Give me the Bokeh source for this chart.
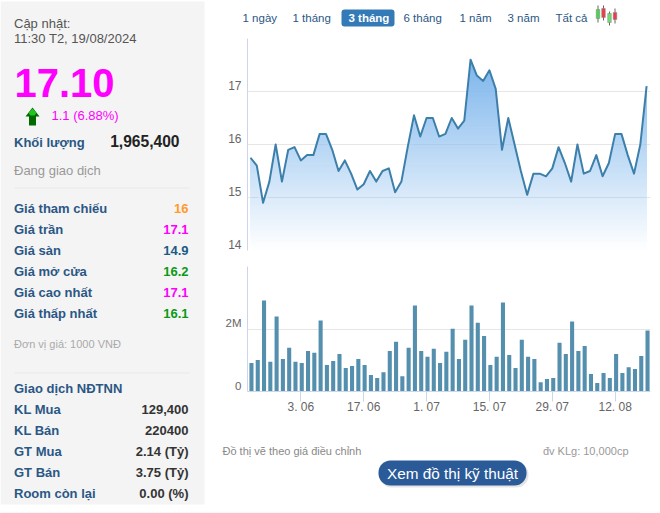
import numpy as np
from bokeh.embed import file_html
from bokeh.resources import INLINE
from bokeh.plotting import figure
from bokeh.layouts import row, column
from bokeh.models import Range1d, LinearAxis, FixedTicker, Grid, BoxAnnotation
from bokeh.core.properties import value

FONT = "Liberation Sans"

# ---------- data ----------
price = [15.75, 15.6, 14.9, 15.3, 16.0, 15.3, 15.9, 15.95, 15.7, 15.8, 15.8, 16.2, 16.2, 15.9, 15.5, 15.7,
         15.45, 15.15, 15.25, 15.5, 15.3, 15.5, 15.55, 15.1, 15.3, 15.95, 16.55, 16.15, 16.5, 16.5, 16.15, 16.2,
         16.5, 16.3, 16.45, 17.6, 17.3, 17.2, 17.4, 17.05, 15.9, 16.5, 16.0, 15.5, 15.05, 15.45, 15.45, 15.4,
         15.55, 15.95, 15.65, 15.3, 16.0, 15.45, 15.5, 15.8, 15.4, 15.65, 16.2, 16.2, 15.8, 15.45, 16.0, 17.1]
volume_m = [0.91, 1.01, 2.91, 0.95, 2.40, 1.04, 1.40, 0.95, 0.91, 1.30, 1.24, 2.27, 0.85, 0.98, 1.20, 0.75,
            0.82, 1.04, 0.85, 0.53, 0.43, 0.62, 1.30, 1.59, 0.49, 1.40, 2.75, 1.30, 1.11, 1.37, 0.91, 1.27,
            2.01, 1.04, 1.66, 2.75, 2.20, 1.78, 0.85, 1.11, 2.85, 1.17, 0.75, 1.66, 1.11, 1.04, 0.30, 0.40,
            0.43, 1.56, 1.20, 2.24, 1.30, 1.46, 0.56, 0.27, 0.59, 0.43, 1.20, 0.59, 0.78, 0.72, 1.14, 1.95]
date_ticks = [8, 18, 28, 38, 48, 58]
date_labels = ["3. 06", "17. 06", "1. 07", "15. 07", "29. 07", "12. 08"]
price_ticks = [14, 15, 16, 17]
range_tabs = ["1 ngày", "1 tháng", "3 tháng", "6 tháng", "1 năm", "3 năm", "Tất cả"]
quote_labels = ["Giá tham chiếu", "Giá trần", "Giá sàn", "Giá mở cửa", "Giá cao nhất", "Giá thấp nhất"]
quote_values = ["16", "17.1", "14.9", "16.2", "17.1", "16.1"]
quote_colors = ["#ff9a2e", "#ff00ff", "#1c5a86", "#0a9a14", "#ff00ff", "#0a9a14"]
foreign_labels = ["KL Mua", "KL Bán", "GT Mua", "GT Bán", "Room còn lại"]
foreign_values = ["129,400", "220400", "2.14 (Tỷ)", "3.75 (Tỷ)", "0.00 (%)"]

LABEL = "#2b5785"
idx = np.arange(len(price), dtype=float)
price_arr = np.array(price)


def page_fig(w, h, x0, y0):
    """A figure whose data units are page pixels."""
    f = figure(width=w, height=h, x_range=Range1d(x0, x0 + w), y_range=Range1d(y0 + h, y0),
               output_backend="svg", toolbar_location=None, min_border=0,
               x_axis_location=None, y_axis_location=None, outline_line_color=None)
    f.grid.visible = False
    return f


def txt(f, x, y, s, size, color, align="left", bold=False):
    f.text(x=[x], y=[y], text=[s], text_font=value(FONT), text_font_size=f"{size}px", text_color=color,
           text_align=align, text_baseline="middle", text_font_style="bold" if bold else "normal")


# ---------- left panel ----------
left = page_fig(210, 513, 0, 0)
left.add_layout(BoxAnnotation(left=0, right=204, top=1, bottom=504, fill_color="#f4f4f4", fill_alpha=1,
                              line_color=None, level="underlay"))
txt(left, 13.5, 23, "Cập nhật:", 13, "#555555")
txt(left, 13.5, 38, "11:30 T2, 19/08/2024", 13, "#555555")
txt(left, 14, 82, "17.10", 40, "#ff00ff", bold=True)
left.patch(x=[25, 32, 39, 35.5, 35.5, 28.5, 28.5], y=[116, 107, 116, 116, 125, 125, 116], fill_color="#006a00", line_color=None)
left.patch(x=[28, 32, 36, 34, 30], y=[112.5, 108, 112.5, 115, 115], fill_color="#22c422", line_color=None)
txt(left, 51, 115, "1.1 (6.88%)", 13, "#ff00ff")
txt(left, 13.5, 142, "Khối lượng", 13, LABEL, bold=True)
txt(left, 179, 140, "1,965,400", 15.6, "#222222", align="right", bold=True)
txt(left, 13.5, 170, "Đang giao dịch", 13, "#999999")
for yy in (187, 372):
    left.segment(x0=[14], x1=[189], y0=[yy + .5], y1=[yy + .5], line_color="#e8e8e8", line_width=1)
for i, (a, b, c) in enumerate(zip(quote_labels, quote_values, quote_colors)):
    txt(left, 13.5, 208 + 21 * i, a, 13, LABEL, bold=True)
    txt(left, 188, 208 + 21 * i, b, 13, c, align="right", bold=True)
txt(left, 13.5, 343, "Đơn vị giá: 1000 VNĐ", 11, "#aaaaaa")
txt(left, 13.5, 388, "Giao dịch NĐTNN", 13, LABEL, bold=True)
for i, (a, b) in enumerate(zip(foreign_labels, foreign_values)):
    txt(left, 13.5, 409 + 21 * i, a, 13, LABEL, bold=True)
    txt(left, 188, 409 + 21 * i, b, 13, "#333333", align="right", bold=True)
left.segment(x0=[0], x1=[210], y0=[512.5], y1=[512.5], line_color="#eeeeee")

# ---------- range selector ----------
top = page_fig(450, 38, 210, 0)
top.add_layout(BoxAnnotation(left=341, right=394, top=9, bottom=26, fill_color="#337ab7", fill_alpha=1,
                             line_color=None, border_radius=3, level="underlay"))
for s, x in zip(range_tabs, [242, 292, 348, 403, 459, 507, 555]):
    active = s == "3 tháng"
    txt(top, x, 17, s, 11.5, "#ffffff" if active else "#2b5785", bold=True if active else False)
for x, y0, y1, b0, b1, c in [(597.5, 5, 22, 9, 18, "#4cd24c"), (603, 5, 20, 8, 17, "#e8404a"),
                             (609, 11, 25, 13, 22, "#6edc6e"), (614.5, 8, 23, 12, 19, "#e8404a")]:
    top.segment(x0=[x], x1=[x], y0=[y0], y1=[y1], line_color="#666666")
    top.quad(left=[x - 1.8], right=[x + 1.8], top=[b0], bottom=[b1], fill_color=c, line_color="#888888", line_width=0.5)

# ---------- price chart ----------
x_lo, x_hi = -0.48, 63.62
P_H = 212
p = figure(width=450, height=224, x_range=Range1d(x_lo, x_hi), y_range=Range1d(14, 18),
           output_backend="svg", toolbar_location=None, min_border_left=37, min_border_right=10,
           min_border_top=0, min_border_bottom=12, x_axis_location=None, y_axis_location=None,
           outline_line_color=None)
p.grid.visible = False
p.add_layout(Grid(dimension=1, ticker=FixedTicker(ticks=price_ticks + [18]), grid_line_color="#e6e6e6", level="underlay"))


def under_line(level):
    """Vertices of the series with the points where it crosses `level` added, for filling under the line."""
    d = price_arr - level
    cross = np.where(d[:-1] * d[1:] < 0)[0]
    extra = cross + (level - price_arr[cross]) / (price_arr[cross + 1] - price_arr[cross])
    xs = np.unique(np.concatenate([idx, extra]))
    return xs, np.interp(xs, idx, price_arr)


# vertical gradient of the area: opaque layers, each one starting two pixel rows higher
px_per = 4 / P_H
top_v = price_arr.max()
base = np.array([0x7c, 0xb5, 0xec])
for lv in np.arange(14.0 + px_per, top_v, 2 * px_per):
    xs, ys = under_line(lv)
    frac = (lv + px_per - 14) / (top_v - 14)
    col = np.round(255 + (base - 255) * min(frac, 1)).astype(int)
    p.varea(x=xs, y1=np.full_like(xs, lv), y2=np.maximum(ys, lv), fill_color="#%02x%02x%02x" % tuple(col))
# the grid shows faintly through the area
for g in price_ticks[1:]:
    lo, hi = g - px_per / 2, g + px_per / 2
    xs, ys = under_line(lo)
    p.varea(x=xs, y1=np.full_like(xs, lo), y2=np.clip(ys, lo, hi), fill_color="#000000",
            fill_alpha=float((1 - (g - 14) / (top_v - 14)) * 0.1))
p.line(idx, price_arr, line_color="#3d7fab", line_width=2, line_join="round")

p.extra_y_ranges = {"labels": Range1d(14 - 6 * px_per, 18 - 6 * px_per)}
ax = LinearAxis(y_range_name="labels", ticker=FixedTicker(ticks=price_ticks), axis_line_color="#ccd6eb",
                major_tick_line_color=None, minor_tick_line_color=None, major_tick_in=0, major_tick_out=0,
                major_label_standoff=6, major_label_text_font=FONT, major_label_text_font_size="12px",
                major_label_text_color="#666666")
p.add_layout(ax, "left")

# ---------- volume chart ----------
V_H = 125
v = figure(width=450, height=168, x_range=Range1d(x_lo, x_hi), y_range=Range1d(0, 4),
           output_backend="svg", toolbar_location=None, min_border_left=37, min_border_right=10,
           min_border_top=4, min_border_bottom=39, x_axis_location=None, y_axis_location=None,
           outline_line_color=None)
v.grid.visible = False
v.add_layout(Grid(dimension=1, ticker=FixedTicker(ticks=[2, 4]), grid_line_color="#e6e6e6", level="underlay"))
v.vbar(x=idx + 0.15, top=volume_m, bottom=0, width=0.65, fill_color="#558fae", line_color=None)
xax = LinearAxis(ticker=FixedTicker(ticks=date_ticks), major_label_overrides=dict(zip(date_ticks, date_labels)),
                 axis_line_color="#ccd6eb", major_tick_line_color="#ccd6eb", major_tick_in=0, major_tick_out=10,
                 minor_tick_line_color=None, major_label_standoff=-2, major_label_text_font=FONT,
                 major_label_text_font_size="12px", major_label_text_color="#666666")
v.add_layout(xax, "below")
shift = 6 * 4 / V_H
v.extra_y_ranges = {"labels": Range1d(0 - shift, 4 - shift)}
yax = LinearAxis(y_range_name="labels", ticker=FixedTicker(ticks=[0, 2]), major_label_overrides={0: "0", 2: "2M"},
                 axis_line_color="#ccd6eb", major_tick_line_color=None, minor_tick_line_color=None,
                 major_tick_in=0, major_tick_out=0, major_label_standoff=6, major_label_text_font=FONT,
                 major_label_text_font_size="11.5px", major_label_text_color="#666666")
v.add_layout(yax, "left")

# ---------- footer ----------
foot = page_fig(450, 83, 210, 430)
txt(foot, 222, 450, "Đồ thị vẽ theo giá điều chỉnh", 11, "#888888")
txt(foot, 628, 450, "đv KLg: 10,000cp", 11, "#999999", align="right")
foot.add_layout(BoxAnnotation(left=379, right=528, top=462, bottom=487, fill_color="#000000", fill_alpha=0.1,
                              line_color=None, border_radius=12, level="underlay"))
foot.add_layout(BoxAnnotation(left=378, right=526, top=460, bottom=485, fill_color="#2a5a98", fill_alpha=1,
                              line_color=None, border_radius=12, level="underlay"))
txt(foot, 452, 473, "Xem đồ thị kỹ thuật", 15.3, "#ffffff", align="center")
foot.segment(x0=[210], x1=[639], y0=[512.5], y1=[512.5], line_color="#eeeeee")

page = row(left, column(top, column(p, v, spacing=0), foot, spacing=0), spacing=0)
open("out.html", "w").write(file_html(page, INLINE))
